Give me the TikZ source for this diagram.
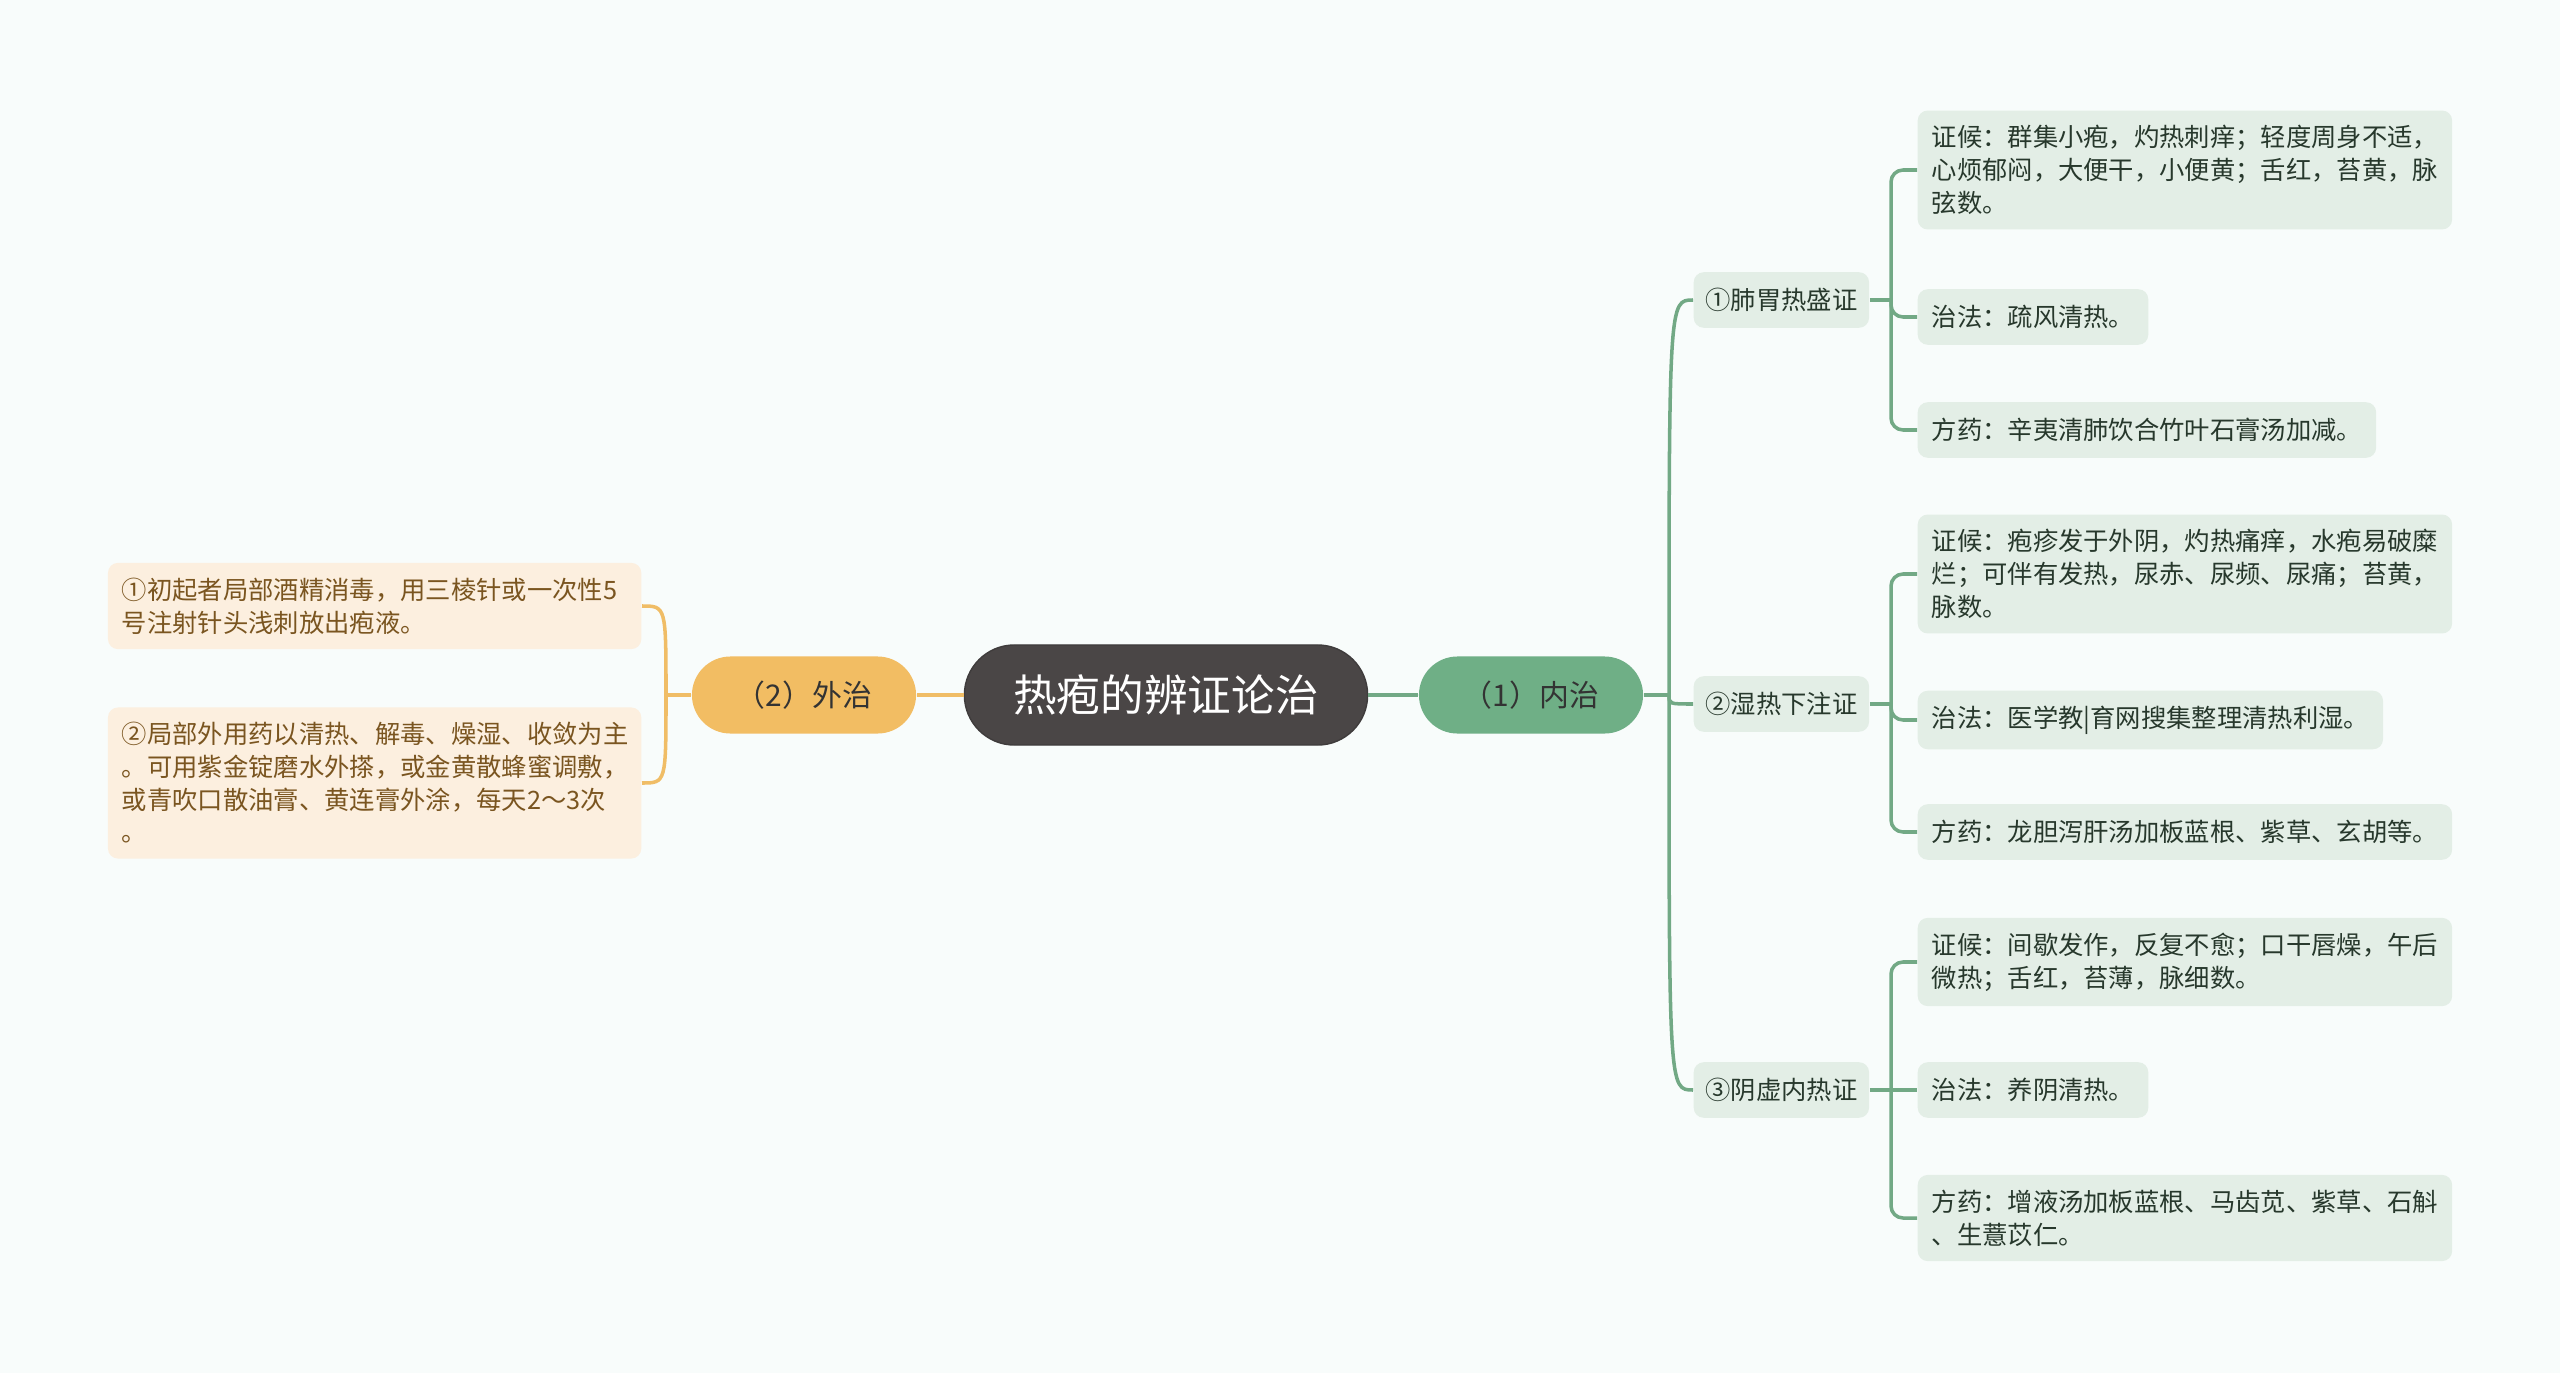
\documentclass[tikz,border=0pt]{standalone}
\usepackage{fontspec}
\setmainfont{Noto Sans CJK SC}
\usetikzlibrary{calc}

\definecolor{bgcol}{HTML}{F8FCFB}
\definecolor{rootcol}{HTML}{4A4646}
\definecolor{neicol}{HTML}{6FAF86}
\definecolor{waicol}{HTML}{F2BD63}
\definecolor{gleafcol}{HTML}{E3EEE6}
\definecolor{oleafcol}{HTML}{FCEFDF}
\definecolor{gtextcol}{HTML}{27382C}
\definecolor{otextcol}{HTML}{7A5520}
\definecolor{glinecol}{HTML}{72A985}
\definecolor{olinecol}{HTML}{F0BD66}

\newcommand\leaffont{\fontsize{7.2pt}{9.3pt}\selectfont}

\tikzset{
  root/.style={fill=rootcol, draw=rootcol!85!black, text=white, rounded corners=0.5cm,
    minimum width=4.03cm, minimum height=1cm, font=\fontsize{12.4pt}{14pt}\selectfont},
  branch/.style={rounded corners=0.385cm, minimum width=2.24cm, minimum height=0.77cm,
    text=black!80, font=\fontsize{8.5pt}{10pt}\selectfont},
  sub/.style={fill=gleafcol, rounded corners=0.1cm, minimum width=1.75cm, minimum height=0.555cm,
    text=gtextcol, font=\leaffont, anchor=west},
  gleaf/.style={fill=gleafcol, rounded corners=0.1cm, inner xsep=0.14cm, inner ysep=0.15cm,
    minimum height=0.555cm, align=left, text=gtextcol, font=\leaffont, anchor=west},
  oleaf/.style={fill=oleafcol, rounded corners=0.1cm, inner xsep=0.14cm, inner ysep=0.15cm,
    text width=5.05cm, align=left, text=otextcol, font=\leaffont, anchor=east},
  gline/.style={draw=glinecol, line width=1pt},
  oline/.style={draw=olinecol, line width=1pt},
}

\begin{document}
\begin{tikzpicture}[x=0.01cm, y=-0.01cm]
    % 背景
    \useasboundingbox (0,0) rectangle (2560,1373);
    \fill[bgcol] (0,0) rectangle (2560,1373);

    % 中心主题
    \node[root] (root) at (1166,695) {热疱的辨证论治};

    % 一级分支
    \node[branch, fill=neicol] (nei) at (1531,695) {（1）内治};
    \node[branch, fill=waicol] (wai) at (804,695) {（2）外治};

    % 内治下的三个证型
    \node[sub] (s1) at (1693,300) {①肺胃热盛证};
    \node[sub] (s2) at (1693,704) {②湿热下注证};
    \node[sub] (s3) at (1693,1090) {③阴虚内热证};

    % 肺胃热盛证
    \node[gleaf] (g11) at (1917,170) {证候：群集小疱，灼热刺痒；轻度周身不适，\\心烦郁闷，大便干，小便黄；舌红，苔黄，脉\\弦数。};
    \node[gleaf] (g12) at (1917,317) {治法：疏风清热。};
    \node[gleaf] (g13) at (1917,430) {方药：辛夷清肺饮合竹叶石膏汤加减。};

    % 湿热下注证
    \node[gleaf] (g21) at (1917,574) {证候：疱疹发于外阴，灼热痛痒，水疱易破糜\\烂；可伴有发热，尿赤、尿频、尿痛；苔黄，\\脉数。};
    \node[gleaf] (g22) at (1917,720) {治法：医学教|育网搜集整理清热利湿。};
    \node[gleaf] (g23) at (1917,832) {方药：龙胆泻肝汤加板蓝根、紫草、玄胡等。};

    % 阴虚内热证
    \node[gleaf] (g31) at (1917,962) {证候：间歇发作，反复不愈；口干唇燥，午后\\微热；舌红，苔薄，脉细数。};
    \node[gleaf] (g32) at (1917,1090) {治法：养阴清热。};
    \node[gleaf] (g33) at (1917,1218) {方药：增液汤加板蓝根、马齿苋、紫草、石斛\\、生薏苡仁。};

    % 外治
    \node[oleaf] (o1) at (642,606) {①初起者局部酒精消毒，用三棱针或一次性5\\号注射针头浅刺放出疱液。};
    \node[oleaf] (o2) at (642,783) {②局部外用药以清热、解毒、燥湿、收敛为主\\。可用紫金锭磨水外搽，或金黄散蜂蜜调敷，\\或青吹口散油膏、黄连膏外涂，每天2～3次\\。};

    % 连线：中心到一级
    \draw[gline] (root.east) -- (nei.west);
    \draw[oline] (root.west) -- (wai.east);

    % 连线：内治到证型
    \coordinate (nfork) at (1669,695);
    \draw[gline] (nei.east) -- (nfork);
    \draw[gline] (nfork) .. controls (nfork|-s1.west) .. (s1.west);
    \draw[gline] (nfork) .. controls (nfork|-s2.west) .. (s2.west);
    \draw[gline] (nfork) .. controls (nfork|-s3.west) .. (s3.west);

    % 连线：证型到条目
    \coordinate (f1) at (1891,300);
    \draw[gline] (s1.east) -- (f1);
    \draw[gline, rounded corners=0.12cm] (f1) |- (g11.west);
    \draw[gline, rounded corners=0.12cm] (f1) |- (g12.west);
    \draw[gline, rounded corners=0.12cm] (f1) |- (g13.west);

    \coordinate (f2) at (1891,704);
    \draw[gline] (s2.east) -- (f2);
    \draw[gline, rounded corners=0.12cm] (f2) |- (g21.west);
    \draw[gline, rounded corners=0.12cm] (f2) |- (g22.west);
    \draw[gline, rounded corners=0.12cm] (f2) |- (g23.west);

    \coordinate (f3) at (1891,1090);
    \draw[gline] (s3.east) -- (g32.west);
    \draw[gline, rounded corners=0.12cm] (f3) |- (g31.west);
    \draw[gline, rounded corners=0.12cm] (f3) |- (g33.west);

    % 连线：外治到条目
    \coordinate (ofork) at (666,695);
    \draw[oline] (wai.west) -- (ofork);
    \draw[oline] (ofork) .. controls (ofork|-o1.east) .. (o1.east);
    \draw[oline] (ofork) .. controls (ofork|-o2.east) .. (o2.east);
\end{tikzpicture}
\end{document}
